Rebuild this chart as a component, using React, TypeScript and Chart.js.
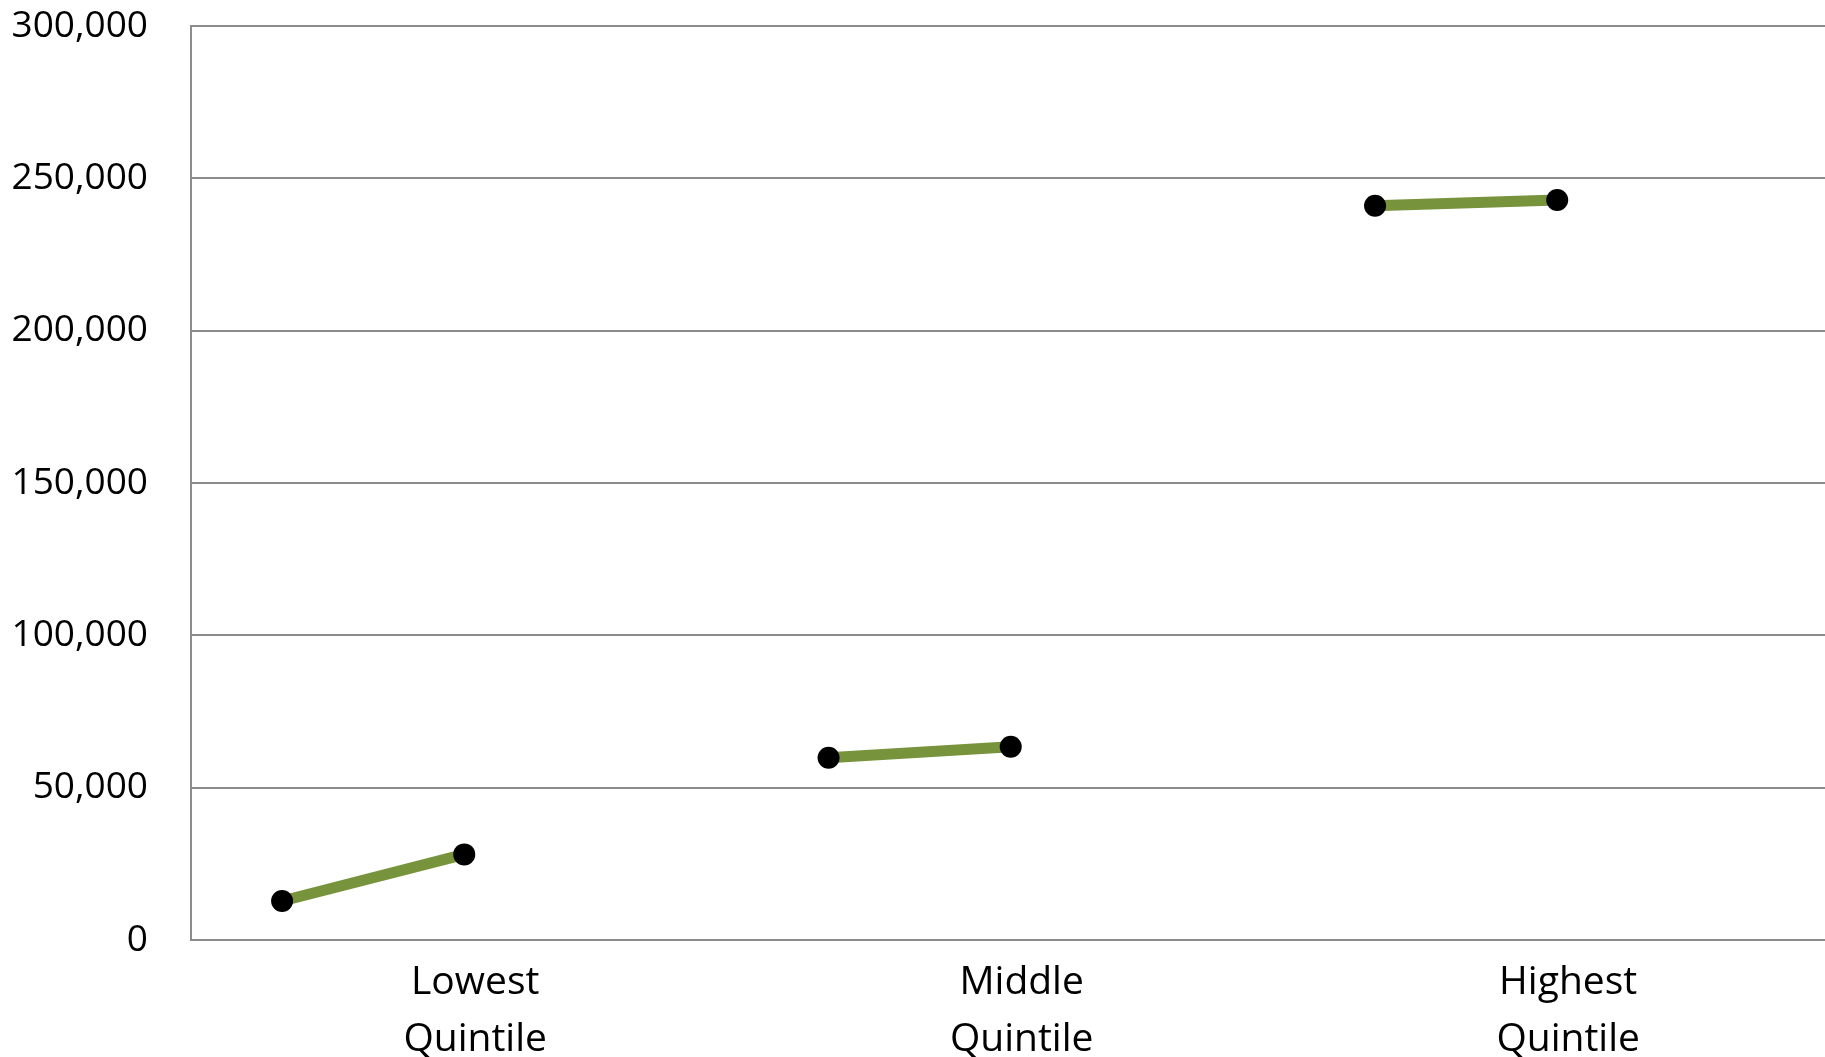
import React, { useEffect, useRef } from "react";
import { Chart, registerables } from "chart.js";

Chart.register(...registerables);

const categories: string[][] = [["Lowest", "Quintile"], ["Middle", "Quintile"], ["Highest", "Quintile"]];
const startValues: number[] = [12800, 59800, 241000];
const endValues: number[] = [28100, 63400, 242900];
const yTicks: number[] = [0, 50000, 100000, 150000, 200000, 250000, 300000];

const GREEN = "#77933C";
const GRID = "#8c8c8c";
const FONT = "'Open Sans', sans-serif";

export default function App() {
  const ref = useRef<HTMLCanvasElement | null>(null);
  useEffect(() => {
    document.body.style.margin = "0";
    const ctx = ref.current;
    if (!ctx) return;
    const datasets = categories.map((_, i) => ({
      data: [
        { x: i + 1 / 6, y: startValues[i] },
        { x: i + 1 / 2, y: endValues[i] },
      ],
      borderColor: GREEN,
      borderWidth: 11,
      pointRadius: 11,
      pointBackgroundColor: "#000",
      pointBorderColor: "#000",
      pointBorderWidth: 0,
      showLine: true,
      fill: false,
      tension: 0,
    }));
    const chart = new Chart(ctx, {
      type: "scatter",
      data: { datasets },
      options: {
        animation: false,
        responsive: false,
        maintainAspectRatio: false,
        layout: { autoPadding: false, padding: { top: 26, right: 0, left: 0, bottom: 0 } },
        plugins: { legend: { display: false }, tooltip: { enabled: false } },
        scales: {
          x: {
            type: "linear",
            min: 0,
            max: 2.99,
            grid: { display: false },
            border: { display: false },
            afterBuildTicks: (scale: any) => {
              scale.ticks = categories.map((_, i) => ({ value: i + 0.52 }));
            },
            afterFit: (scale: any) => {
              scale.height = 117;
              scale.paddingLeft = 0;
              scale.paddingRight = 0;
            },
            ticks: {
              autoSkip: false,
              maxRotation: 0,
              color: "#000",
              padding: 6,
              font: { family: FONT, size: 39, lineHeight: 1.46 },
              callback: (v: any) => categories[Math.round(Number(v) - 0.52)] ?? "",
            },
          },
          y: {
            min: 0,
            max: 300000,
            afterBuildTicks: (scale: any) => {
              scale.ticks = yTicks.map((v) => ({ value: v }));
            },
            afterFit: (scale: any) => {
              scale.width = 191;
              scale.paddingTop = 0;
              scale.paddingBottom = 0;
            },
            grid: { color: GRID, lineWidth: 2, drawTicks: false },
            border: { display: true, color: GRID, width: 2 },
            ticks: {
              color: "#000",
              padding: 43,
              font: { family: FONT, size: 37 },
              callback: (v: any) => Number(v).toLocaleString("en-US"),
            },
          },
        },
      },
    } as any);
    return () => chart.destroy();
  }, []);
  return (
    <div style={{ position: "fixed", left: 0, top: 0, width: 1825, height: 1057, background: "#fff" }}>
      <canvas ref={ref} width={1825} height={1057} style={{ display: "block" }} />
    </div>
  );
}
